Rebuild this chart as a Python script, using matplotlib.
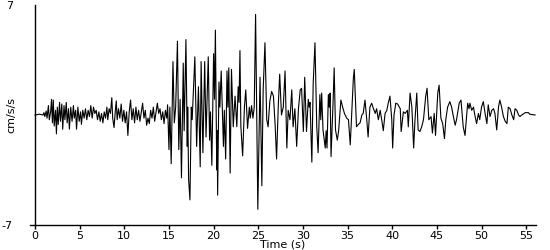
import matplotlib
matplotlib.use("Agg")
import matplotlib.pyplot as plt
import numpy as np

plt.rcParams['axes.unicode_minus'] = False

# peaks and troughs of the record (time in s, accel in cm/s/s)
time_s = [
    0, 0.5, 0.9, 1.0, 1.1, 1.25, 1.35, 1.5, 1.6, 1.75, 1.85, 1.95, 2.05, 2.15, 2.3, 2.4, 2.5, 2.6, 2.75, 2.85,
    3.0, 3.1, 3.25, 3.35, 3.5, 3.6, 3.75, 3.85, 4.0, 4.15, 4.3, 4.4, 4.55, 4.65, 4.8, 4.95, 5.1, 5.2, 5.35, 5.5,
    5.65, 5.8, 5.95, 6.1, 6.25, 6.4, 6.55, 6.7, 6.85, 7.0, 7.15, 7.3, 7.45, 7.6, 7.75, 7.9, 8.05, 8.15, 8.3, 8.45,
    8.6, 8.7, 8.85, 9.0, 9.1, 9.2, 9.35, 9.5, 9.65, 9.8, 9.95, 10.1, 10.25, 10.4, 10.55, 10.7, 10.85, 11.0, 11.15, 11.3,
    11.45, 11.6, 11.75, 11.9, 12.05, 12.2, 12.35, 12.5, 12.65, 12.8, 12.95, 13.1, 13.25, 13.4, 13.55, 13.7, 13.85, 14.0, 14.15, 14.3,
    14.45, 14.6, 14.75, 14.85, 15.0, 15.1, 15.25, 15.45, 15.6, 15.75, 15.95, 16.1, 16.25, 16.4, 16.6, 16.7, 16.9, 17.05, 17.1, 17.2,
    17.35, 17.5, 17.6, 17.9, 18.1, 18.3, 18.5, 18.6, 18.8, 19.0, 19.15, 19.4, 19.55, 19.65, 19.8, 20.0, 20.1, 20.2, 20.35, 20.4,
    20.45, 20.6, 20.7, 20.85, 21.1, 21.2, 21.35, 21.5, 21.6, 21.7, 21.85, 22.0, 22.2, 22.4, 22.6, 22.75, 22.85, 22.95, 23.05, 23.25,
    23.45, 23.6, 23.8, 24.0, 24.1, 24.25, 24.4, 24.55, 24.7, 24.95, 25.2, 25.4, 25.55, 25.75, 25.95, 26.1, 26.3, 26.5, 26.7, 26.9,
    27.05, 27.25, 27.4, 27.6, 27.8, 28.0, 28.2, 28.35, 28.55, 28.75, 28.9, 29.1, 29.3, 29.5, 29.7, 29.85, 30.05, 30.2, 30.4, 30.6,
    30.7, 30.8, 31.0, 31.15, 31.35, 31.55, 31.7, 31.9, 32.0, 32.1, 32.25, 32.5, 32.6, 32.7, 32.85, 32.95, 33.05, 33.15, 33.4, 33.5,
    33.65, 33.85, 34.0, 34.25, 34.45, 34.65, 34.9, 35.1, 35.3, 35.65, 35.75, 36.0, 36.2, 36.4, 36.6, 36.75, 36.95, 37.15, 37.3, 37.5,
    37.7, 37.9, 38.1, 38.25, 38.45, 38.65, 38.85, 39.0, 39.2, 39.4, 39.55, 39.75, 39.95, 40.05, 40.2, 40.4, 40.6, 40.9, 41.0, 41.25,
    41.45, 41.7, 41.8, 42.0, 42.2, 42.4, 42.55, 42.75, 42.9, 43.1, 43.3, 43.5, 43.75, 43.9, 44.1, 44.35, 44.5, 44.7, 44.85, 45.1,
    45.25, 45.45, 45.65, 45.85, 46.0, 46.2, 46.45, 46.65, 46.85, 47.05, 47.2, 47.5, 47.7, 47.95, 48.15, 48.35, 48.45, 48.6, 48.7, 48.9,
    49.1, 49.25, 49.45, 49.65, 49.8, 50.0, 50.2, 50.4, 50.6, 50.75, 50.95, 51.15, 51.35, 51.5, 51.7, 51.9, 52.05, 52.25, 52.45, 52.65,
    52.85, 53.0, 53.2, 53.4, 53.6, 53.75, 53.95, 54.15, 54.3, 54.5, 54.9, 55.25, 55.4, 56.0,
]
accel = [
    0, 0.05, 0, 0.15, -0.1, 0.25, -0.2, 0.6, -0.3, 0.2, 1.0, -0.5, 0.95, -0.7, 0.3, -1.2, 0.5, -0.6, 0.8, -0.4,
    0.7, -0.9, 0.6, -0.3, 0.8, -0.5, 0.4, -0.9, 0.5, -0.4, 0.6, -0.2, 0.3, -0.9, 0.5, -0.4, 0.2, -0.6, 0.3, -0.2,
    0.4, -0.3, 0.3, -0.1, 0.6, -0.2, 0.5, 0.1, 0.3, -0.3, 0.2, -0.4, 0.1, -0.5, 0.2, -0.2, 0.5, -0.3, 0.4, 0.1,
    1.1, -0.2, -0.8, 0.3, 0.9, -0.3, 0.4, -0.2, 0.7, -0.4, 0.3, -0.5, 0.2, -1.3, 0.2, 0.95, -0.3, 0.4, -0.5, 0.5,
    -0.3, 0.3, -0.4, 0.2, 0.75, -0.2, 0.3, -0.65, -0.2, -0.55, 0.3, -0.2, 0.5, -0.4, 0.2, 0.75, 0.1, 0.4, -0.3, 0.2,
    -0.55, 0.3, -0.2, 0.65, -2.2, 0.5, -3.1, 3.4, -0.5, 0.5, 4.7, -2.2, 1.0, -4.0, 3.3, -1.0, 4.8, -2.0, 0.5, -4.1,
    -5.4, 0.5, -0.3, 3.7, -2.0, 1.8, -3.3, 3.4, -2.4, 3.4, -1.4, 3.7, -1.6, 0.2, -3.2, 3.9, 1.0, 5.4, -3.5, -1.0,
    -5.1, 2.1, 0.5, 2.8, -2.0, 0.3, -2.8, 2.8, 0.5, 3.0, -3.7, 2.9, -0.75, 1.2, -0.75, 1.8, 0.8, 4.1, -0.7, -2.6,
    0.5, 1.6, -0.85, 0.5, -0.2, 0.6, -0.2, 0.5, 6.4, -6.0, 2.4, -4.5, 1.6, 4.6, -0.3, -0.75, 0.9, 1.5, 1.2, -0.75,
    -2.8, 0.7, 2.6, 0.0, 0.5, 2.8, -2.1, 0.3, -0.3, 1.6, -0.75, 0.4, -2.0, 0.4, 1.6, 1.7, -1.05, 2.4, -1.05, 1.0,
    0.5, 0.8, -3.0, 2.0, 4.6, -0.75, -2.4, 1.3, -0.3, 1.4, -0.95, -2.1, -1.0, -2.1, 1.3, 0.5, 1.4, -2.65, 1.2, 3.0,
    -0.95, -1.6, -1.0, 0.95, 0.5, 0.1, -0.2, -0.3, -1.9, 2.35, 2.9, -0.75, -0.6, -0.5, 0.0, 0.1, 0.95, -0.3, -1.4, 0.5,
    0.75, 0.4, 0.1, 0.4, -0.3, 0.3, -0.4, -1.0, 0.1, 0.3, 0.75, 1.2, -0.3, -2.1, 0.0, 0.75, 0.7, 0.4, -1.05, 0.2,
    0.1, 0.3, -0.75, 1.4, 0.5, -2.1, -0.3, 1.4, -0.95, -1.05, -0.75, -0.3, 1.2, 1.7, -0.3, -0.1, -1.15, 0.1, -1.3, 1.4,
    1.9, -0.2, -0.55, -1.5, -0.3, 0.5, 0.85, 0.5, -0.1, -0.65, -0.3, 0.75, 0.95, -0.75, -1.3, 0.1, 0.75, 0.4, 0.75, 0.3,
    0.5, 0.0, -0.55, 0.1, -0.3, 0.5, 0.85, 0.1, -0.55, 0.65, -0.1, 0.3, 0.4, 0.1, -0.95, 0.5, 0.95, 0.5, -0.1, -0.4,
    -0.55, 0.5, 0.4, 0.0, -0.3, 0.4, 0.3, 0.0, -0.1, 0.0, 0.15, 0.15, 0.05, 0.0,
]
x_ticks = [0, 5, 10, 15, 20, 25, 30, 35, 40, 45, 50, 55]

fig = plt.figure(figsize=(5.5, 2.5), dpi=100)
ax = fig.add_axes([30 / 550, 0.1, 506 / 550, 0.88])

ax.plot(time_s, accel, color='black', lw=0.8)

ax.set_xlim(-0.56, 56.1)
ax.set_ylim(-7, 7)
ax.spines['top'].set_visible(False)
ax.spines['right'].set_visible(False)
ax.spines['left'].set_position(('data', 0))
for s in ['left', 'bottom']:
    ax.spines[s].set_linewidth(1.0)

ax.set_xticks(x_ticks)
ax.tick_params(axis='x', direction='out', length=3, width=1, labelsize=8, pad=1)
ax.set_yticks([-7, 7])
ax.set_yticklabels(['-7', '7'])
ax.tick_params(axis='y', length=0, labelsize=8, pad=16)

ax.set_xlabel('Time (s)', fontsize=8, labelpad=-1)
ax.set_ylabel('cm/s/s', fontsize=8)
ax.yaxis.set_label_coords(-0.026, 0.5)

fig.savefig('out.png', dpi=100)
